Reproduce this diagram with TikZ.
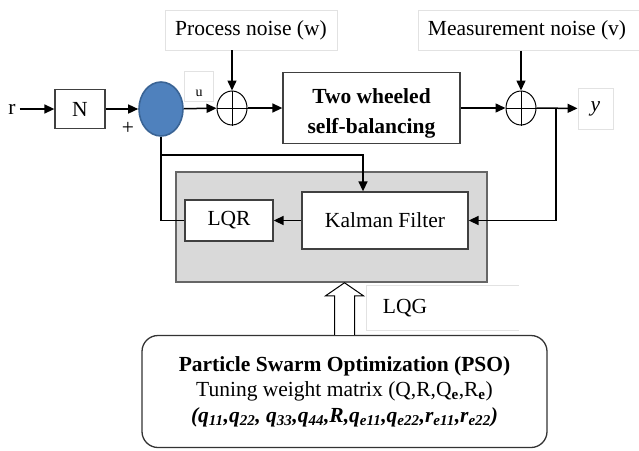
\documentclass[tikz,border=0pt]{standalone}
\usepackage{fontspec}
\setmainfont{Liberation Serif}
\usetikzlibrary{arrows.meta,shapes.geometric}

\def\fsz{\fontsize{21.5}{25.5}\selectfont}
\definecolor{ctrlblue}{HTML}{4F81BD}
\definecolor{ctrledge}{HTML}{3A6495}
\definecolor{lqgfill}{HTML}{D9D9D9}
\definecolor{labelline}{HTML}{E2E2E2}

\begin{document}
\begin{tikzpicture}[x=1pt,y=-1pt,line width=1.5pt,>={Triangle[length=10pt,width=9pt]},font=\fsz]
    \tikzstyle{block}=[draw=black!75,fill=white,line width=1.3pt,inner sep=0pt]
    \tikzstyle{sum}=[draw,ellipse,minimum width=30,minimum height=34,inner sep=0pt,line width=1pt]
    \tikzstyle{label box}=[draw=labelline,line width=0.9pt,inner sep=0pt]
    \tikzstyle{label line}=[labelline,line width=0.9pt]
    \tikzstyle{signal}=[->,line width=1.5pt]

    \useasboundingbox (0,0) rectangle (639,450);

    % Draw the forward path
    \node (r) at (12,109) {r};
    \node[block, minimum width=50, minimum height=39] (N) at (80,109) {N};
    \node (plus) at (128,128) {+};
    \node[ellipse, fill=ctrlblue, draw=ctrledge, line width=1.6pt, minimum width=44, minimum height=54] (C) at (161,109) {};
    \node[label box, minimum width=29, minimum height=30] (ubox) at (198.5,86) {};
    \node[font=\fontsize{14}{16}\selectfont] (u) at (199,93) {u};
    \node[sum] (S1) at (232,108) {};
    \draw[line width=1pt] (S1.north) -- (S1.south) (S1.west) -- (S1.east);
    \node[label box, minimum width=172, minimum height=40] (w) at (251,30) {Process noise (w)};
    \node[block, minimum width=177, minimum height=71, align=center] (P) at (371.5,108) {\rule{0pt}{26pt}\textbf{Two wheeled}\\[5pt]\textbf{self-balancing}};
    \node[sum] (S2) at (521,108) {};
    \draw[line width=1pt] (S2.north) -- (S2.south) (S2.west) -- (S2.east);
    \node[minimum height=40] (v) at (527,30) {Measurement noise (v)};
    \draw[label line] (639,10) -| (418,50) -- (639,50);
    \node[label box, minimum width=35, minimum height=41] (y) at (595.5,108.5) {\textit{y}};

    % Draw the LQG controller
    \node[draw=black!60, fill=lqgfill, line width=1.5pt, minimum width=311, minimum height=110] (LQG) at (331.5,227) {};
    \node[block, minimum width=88, minimum height=41] (LQR) at (229,220.5) {LQR};
    \node[block, minimum width=166, minimum height=57] (KF) at (385,220.5) {Kalman Filter};
    \node (lqgtxt) at (405,308) {LQG};
    \draw[label line] (519,285) -| (366,330) -- (519,330);

    % Draw the PSO tuning block
    \node[draw=black!80, rounded corners=16, line width=1.3pt, minimum width=405, minimum height=112, align=center] (PSO) at (344.5,391.5)
        {\textbf{Particle Swarm Optimization (PSO)}\\
         Tuning weight matrix (Q,R,Q\textsubscript{\textbf{e}},R\textsubscript{\textbf{e}})\\
         \textbf{\textit{(q\textsubscript{11},q\textsubscript{22}, q\textsubscript{33},q\textsubscript{44},R,q\textsubscript{e11},q\textsubscript{e22},r\textsubscript{e11},r\textsubscript{e22})}}};
    \draw[line width=1pt, fill=white] ([xshift=-10]PSO.north) -- ([xshift=-10,yshift=39]PSO.north)
        -- ([xshift=-19,yshift=39]PSO.north) -- (PSO.north |- LQG.south)
        -- ([xshift=19,yshift=39]PSO.north) -- ([xshift=10,yshift=39]PSO.north) -- ([xshift=10]PSO.north);

    % Connect the signals
    \draw[signal] (r) -- (N);
    \draw[signal] (N) -- (C);
    \draw[signal] (C) -- (S1);
    \draw[signal] (w.south -| S1) -- (S1);
    \draw[signal] (S1) -- (P);
    \draw[signal] (P) -- (S2);
    \draw[signal] (v.south -| S2) -- (S2);
    \draw[signal] (S2) -- (y);
    \coordinate (B) at (556,108);
    \draw[signal] (B) |- (KF.east);
    \draw[signal] (KF) -- (LQR);
    \draw (LQR.west) -| (C.south);
    \draw[signal] (C.south |- 0,155) -| ([xshift=-22]KF.north);
\end{tikzpicture}
\end{document}
